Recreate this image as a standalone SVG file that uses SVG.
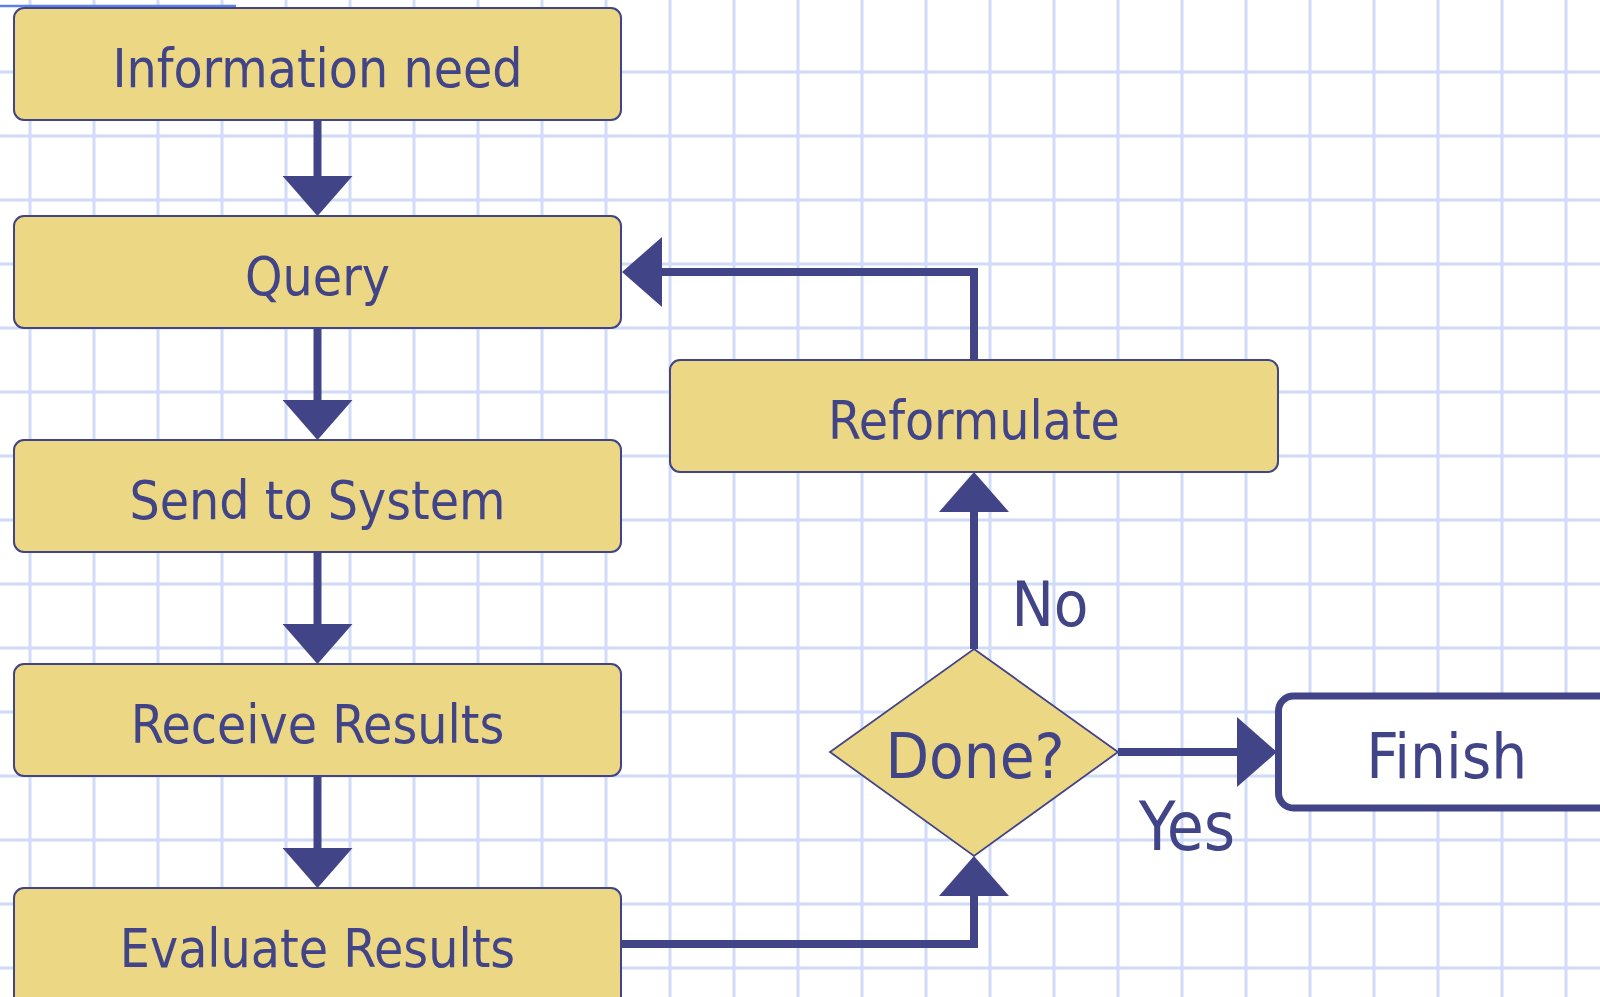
<svg xmlns="http://www.w3.org/2000/svg" width="1600" height="997" viewBox="0 0 1600 997">
<defs>
<style>
.grid line{stroke:#d0dcf7;stroke-width:3}
.box{fill:#ebd784;stroke:#424488;stroke-width:2}
.lbl{font-family:"DejaVu Sans Condensed","DejaVu Sans",sans-serif;fill:#424488;text-anchor:middle}
.s{font-size:53px}
.b{font-size:63px}
.y{font-size:67px}
.conn{fill:none;stroke:#424488;stroke-width:8;stroke-linecap:butt;stroke-linejoin:miter}
</style>
<marker id="ah" viewBox="0 0 40 70" refX="0" refY="35" markerWidth="40" markerHeight="70" markerUnits="userSpaceOnUse" orient="auto">
<path d="M0,0 L40,35 L0,70 z" fill="#424488"/>
</marker>
</defs>
<rect width="1600" height="997" fill="#ffffff"/>
<g class="grid">
<line x1="30" y1="0" x2="30" y2="997"/><line x1="94" y1="0" x2="94" y2="997"/><line x1="158" y1="0" x2="158" y2="997"/><line x1="222" y1="0" x2="222" y2="997"/><line x1="286" y1="0" x2="286" y2="997"/><line x1="350" y1="0" x2="350" y2="997"/><line x1="414" y1="0" x2="414" y2="997"/><line x1="478" y1="0" x2="478" y2="997"/><line x1="542" y1="0" x2="542" y2="997"/><line x1="606" y1="0" x2="606" y2="997"/><line x1="670" y1="0" x2="670" y2="997"/><line x1="734" y1="0" x2="734" y2="997"/><line x1="798" y1="0" x2="798" y2="997"/><line x1="862" y1="0" x2="862" y2="997"/><line x1="926" y1="0" x2="926" y2="997"/><line x1="990" y1="0" x2="990" y2="997"/><line x1="1054" y1="0" x2="1054" y2="997"/><line x1="1118" y1="0" x2="1118" y2="997"/><line x1="1182" y1="0" x2="1182" y2="997"/><line x1="1246" y1="0" x2="1246" y2="997"/><line x1="1310" y1="0" x2="1310" y2="997"/><line x1="1374" y1="0" x2="1374" y2="997"/><line x1="1438" y1="0" x2="1438" y2="997"/><line x1="1502" y1="0" x2="1502" y2="997"/><line x1="1566" y1="0" x2="1566" y2="997"/>
<line x1="0" y1="72" x2="1600" y2="72"/><line x1="0" y1="136" x2="1600" y2="136"/><line x1="0" y1="200" x2="1600" y2="200"/><line x1="0" y1="264" x2="1600" y2="264"/><line x1="0" y1="328" x2="1600" y2="328"/><line x1="0" y1="392" x2="1600" y2="392"/><line x1="0" y1="456" x2="1600" y2="456"/><line x1="0" y1="520" x2="1600" y2="520"/><line x1="0" y1="584" x2="1600" y2="584"/><line x1="0" y1="648" x2="1600" y2="648"/><line x1="0" y1="712" x2="1600" y2="712"/><line x1="0" y1="776" x2="1600" y2="776"/><line x1="0" y1="840" x2="1600" y2="840"/><line x1="0" y1="904" x2="1600" y2="904"/><line x1="0" y1="968" x2="1600" y2="968"/>
</g>
<line x1="0" y1="6" x2="236" y2="6" stroke="#5f7fe2" stroke-width="2.5"/>
<g id="connectors">
<line class="conn" x1="317.5" y1="120" x2="317.5" y2="176" marker-end="url(#ah)"/>
<line class="conn" x1="317.5" y1="328" x2="317.5" y2="400" marker-end="url(#ah)"/>
<line class="conn" x1="317.5" y1="552" x2="317.5" y2="624" marker-end="url(#ah)"/>
<line class="conn" x1="317.5" y1="776" x2="317.5" y2="848" marker-end="url(#ah)"/>
<path class="conn" d="M621,944 H974 V896" marker-end="url(#ah)"/>
<line class="conn" x1="974" y1="649" x2="974" y2="512" marker-end="url(#ah)"/>
<path class="conn" d="M974,360 V272 H662" marker-end="url(#ah)"/>
<line class="conn" x1="1118" y1="752" x2="1237" y2="752" marker-end="url(#ah)"/>
</g>
<g id="n-info"><rect class="box" x="14" y="8" width="607" height="112" rx="10"/><text class="lbl s" x="317.5" y="86.7">Information need</text></g>
<g id="n-query"><rect class="box" x="14" y="216" width="607" height="112" rx="10"/><text class="lbl s" x="317.5" y="294.7">Query</text></g>
<g id="n-send"><rect class="box" x="14" y="440" width="607" height="112" rx="10"/><text class="lbl s" x="317.5" y="518.5">Send to System</text></g>
<g id="n-receive"><rect class="box" x="14" y="664" width="607" height="112" rx="10"/><text class="lbl s" x="317.5" y="742.7">Receive Results</text></g>
<g id="n-evaluate"><rect class="box" x="14" y="888" width="607" height="130" rx="10"/><text class="lbl s" x="317.5" y="966.7">Evaluate Results</text></g>
<g id="n-reformulate"><rect class="box" x="670" y="360" width="608" height="112" rx="10"/><text class="lbl s" x="974" y="438.7">Reformulate</text></g>
<g id="n-done"><polygon points="974,649 1118,752 974,856 830,752" fill="#ebd784" stroke="#424488" stroke-width="1.8"/><text class="lbl b" x="975" y="778.3">Done?</text></g>
<g id="n-finish"><rect x="1278.5" y="696" width="400" height="112" rx="15" fill="#ffffff" stroke="#424488" stroke-width="7"/><text class="lbl b" x="1446.7" y="778.3">Finish</text></g>
<g id="labels">
<text class="lbl b" x="1050" y="625.7">No</text>
<text class="lbl y" x="1187" y="850">Yes</text>
</g>
</svg>
